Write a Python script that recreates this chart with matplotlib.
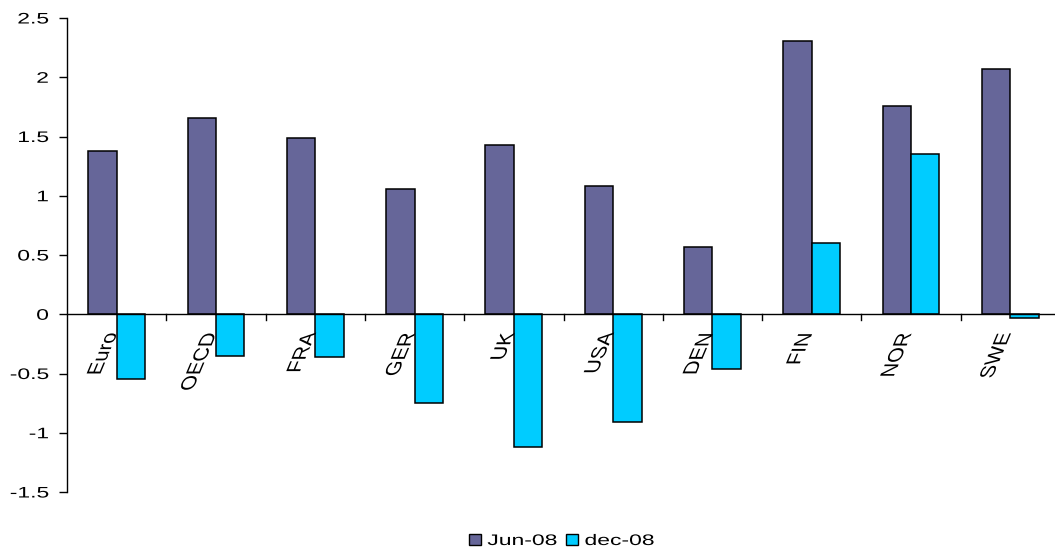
import numpy as np
import matplotlib.pyplot as plt
from matplotlib.patheffects import AbstractPathEffect
from matplotlib.transforms import Affine2D

plt.rcParams['font.family'] = ['Liberation Sans', 'DejaVu Sans']

countries = ['Euro', 'OECD', 'FRA', 'GER', 'UK', 'USA', 'DEN', 'FIN', 'NOR', 'SWE']
jun08 = [1.38, 1.66, 1.49, 1.06, 1.43, 1.08, 0.57, 2.31, 1.76, 2.07]
dec08 = [-0.55, -0.35, -0.36, -0.75, -1.12, -0.91, -0.46, 0.60, 1.35, -0.03]
yticks = [-1.5, -1, -0.5, 0, 0.5, 1, 1.5, 2, 2.5]
ytick_labels = ['-1.5', '-1', '-0.5', '0', '0.5', '1', '1.5', '2', '2.5']


class Warp(AbstractPathEffect):
    """Apply an extra linear map to the glyphs around a fixed display point."""

    def __init__(self, x0, y0=0.0, sx=1.0, shear=0.0):
        super().__init__()
        self.extra = (Affine2D().translate(-x0, -y0)
                      + Affine2D.from_values(sx, 0, shear, 1, 0, 0)
                      + Affine2D().translate(x0, y0))

    def draw_path(self, renderer, gc, tpath, affine, rgbFace=None):
        renderer.draw_path(gc, tpath, affine + self.extra, rgbFace)


W, H = 1055, 553
fig = plt.figure(figsize=(W / 100, H / 100), dpi=100)
ax_left = 67
ax = fig.add_axes([ax_left / W, 61 / H, 993 / W, 474 / H])

x = np.arange(len(countries))
bw = 1 / 3.5
ax.bar(x - bw / 2, jun08, bw, color='#666699', edgecolor='black', linewidth=1.1, label='Jun-08', zorder=2)
ax.bar(x + bw / 2, dec08, bw, color='#00CCFF', edgecolor='black', linewidth=1.1, label='dec-08', zorder=2)

ax.set_xlim(-0.5, len(countries) - 0.5)
ax.set_ylim(-1.5, 2.5)

# zero line with category separators
ax.axhline(0, color='black', linewidth=1, zorder=3)
tick_len = 6 / 118.5
for b in np.arange(0.5, len(countries) - 0.5, 1):
    ax.plot([b, b], [0, -tick_len], color='black', linewidth=1, zorder=3)

# category names: vertical, slanted, hanging below the zero line
for i, name in enumerate(countries):
    xa, ya = i + 0.01, -0.155
    px, py = ax.transData.transform((xa, ya))
    ax.text(xa, ya, name, rotation=90, rotation_mode='anchor',
            ha='right', va='baseline', fontsize=14.5,
            path_effects=[Warp(px, py, shear=0.42)])

ax.set_xticks([])
ax.set_yticks(yticks)
ax.set_yticklabels(ytick_labels, fontsize=11)
ax.tick_params(axis='y', direction='out', length=5.5, width=1, pad=7.5)
label_right = ax_left - (5.5 + 7.5) * 100 / 72
for t in ax.get_yticklabels():
    t.set_path_effects([Warp(label_right, sx=1.5)])
for s in ['top', 'right', 'bottom']:
    ax.spines[s].set_visible(False)
ax.spines['left'].set_linewidth(1)

leg = fig.legend(loc='center left', bbox_to_anchor=(469 / W, 1 - 541 / H),
                 borderaxespad=0, borderpad=0, ncol=2, frameon=False,
                 fontsize=11, handlelength=0.8, handleheight=0.7,
                 handletextpad=0.4, columnspacing=2.1)
for p in leg.get_patches():
    p.set_linewidth(1)

fig.canvas.draw()
for t in leg.get_texts():
    t.set_path_effects([Warp(t.get_window_extent().x0, sx=1.5)])

fig.savefig('out.png', dpi=100)
